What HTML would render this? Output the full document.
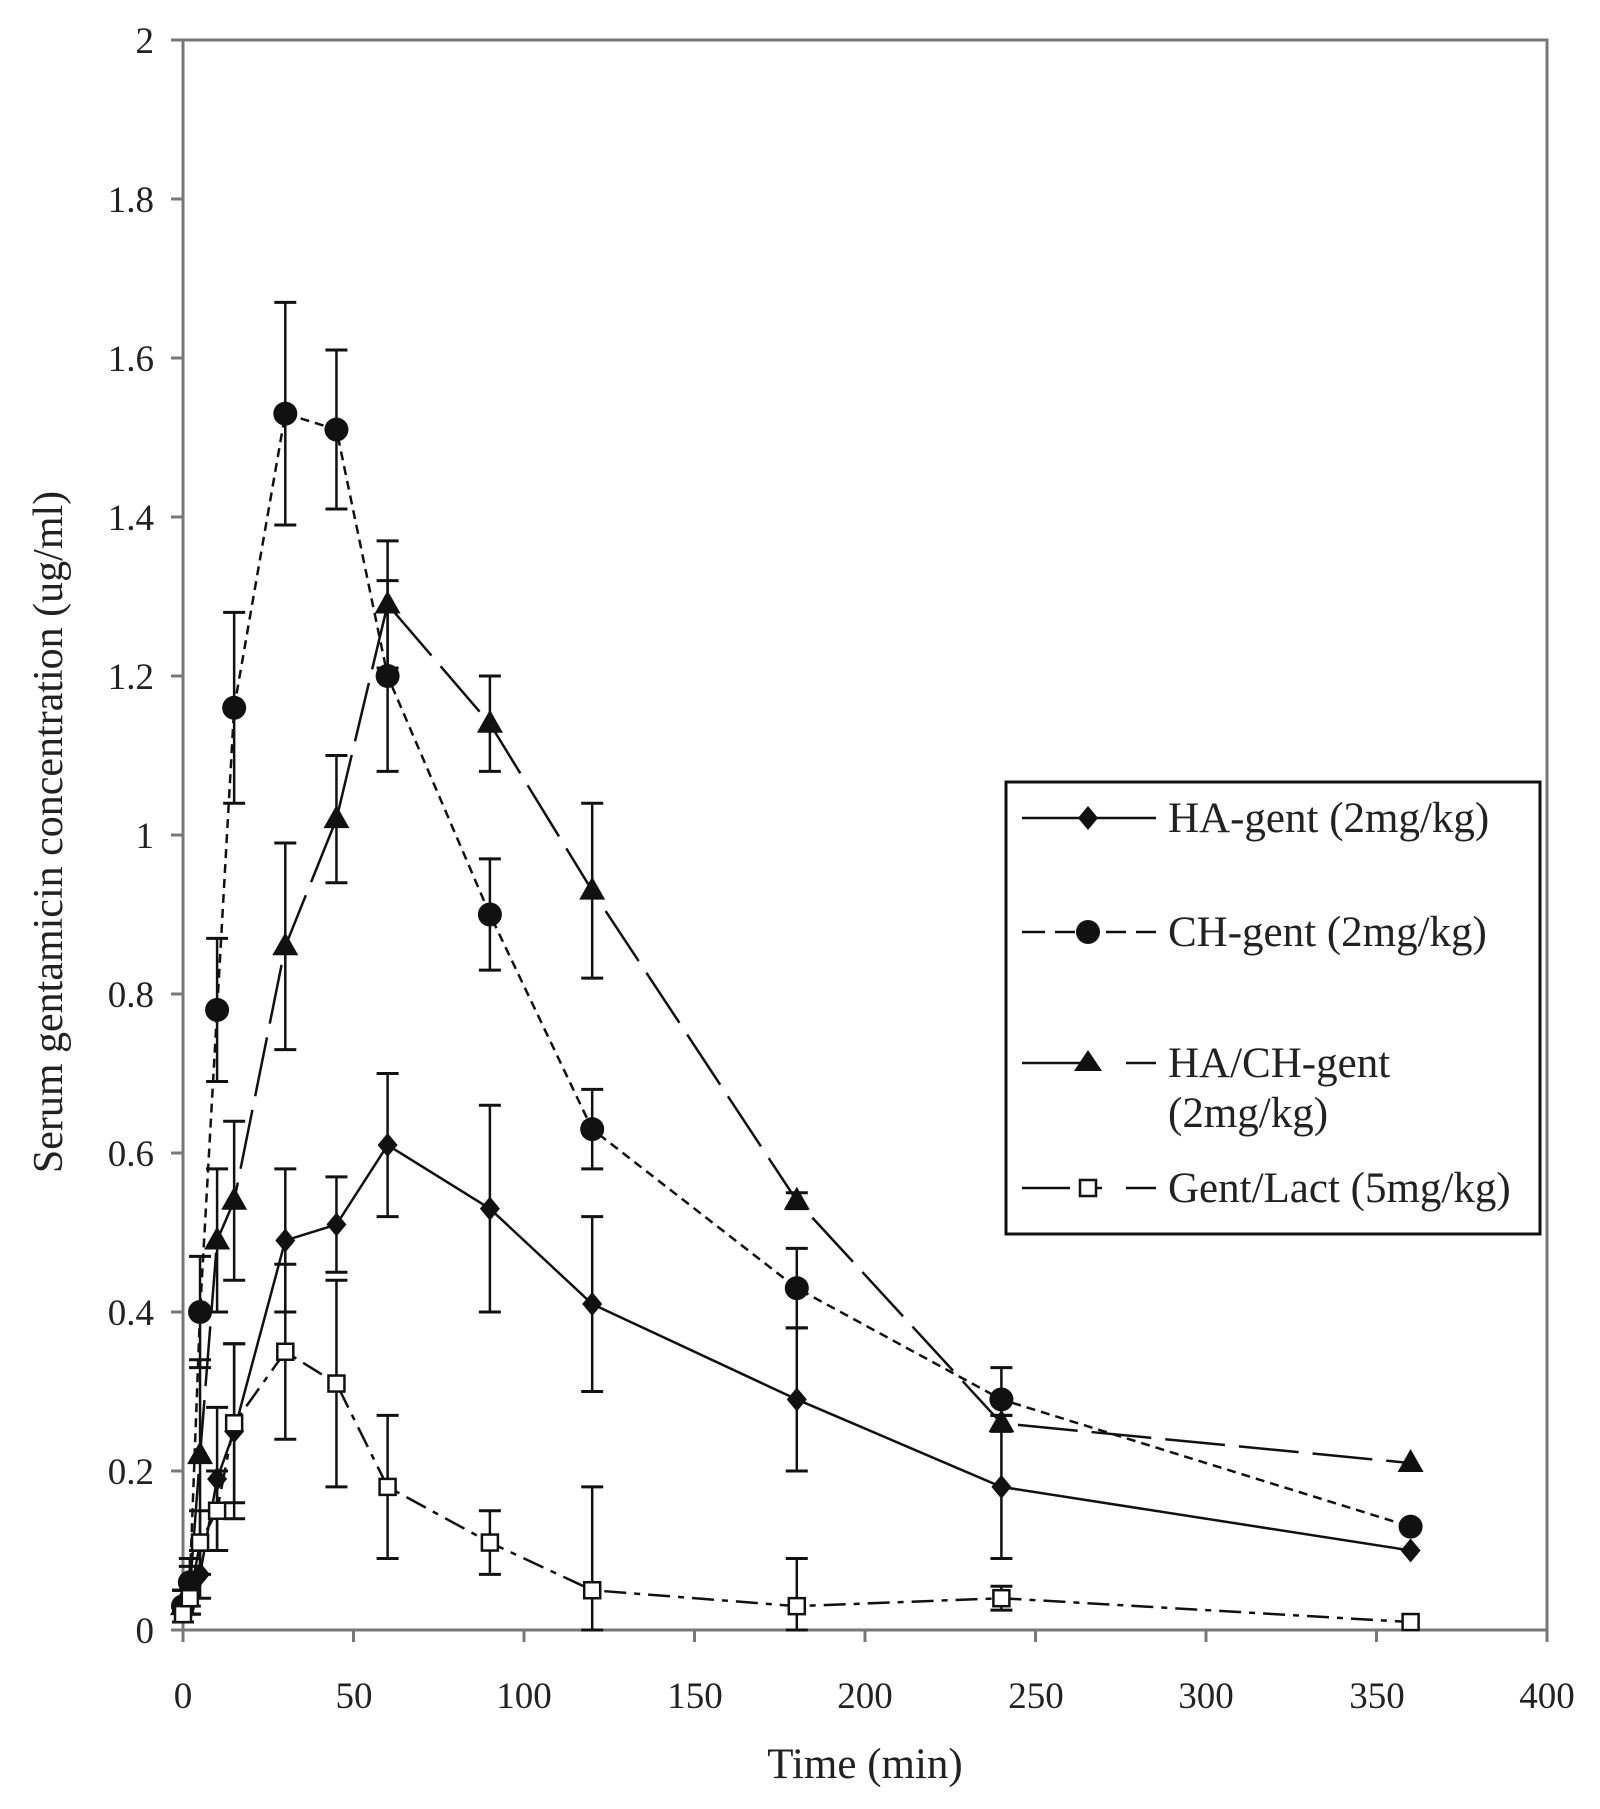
<!DOCTYPE html>
<html><head><meta charset="utf-8"><style>
html,body{margin:0;padding:0;background:#fff;}
svg{display:block;font-family:"Liberation Serif",serif;}
</style></head><body>
<svg id="s" width="1600" height="1809" viewBox="0 0 1600 1809" xmlns="http://www.w3.org/2000/svg">
<rect x="0" y="0" width="1600" height="1809" fill="#fff"/>
<rect x="183" y="40" width="1364" height="1590" fill="none" stroke="#777" stroke-width="3"/>
<g id="ticks" stroke="#777" stroke-width="3"></g>
<g font-size="37" fill="#222" text-anchor="end">
<text x="154" y="1643">0</text>
<text x="154" y="1484">0.2</text>
<text x="154" y="1325">0.4</text>
<text x="154" y="1166">0.6</text>
<text x="154" y="1007">0.8</text>
<text x="154" y="848">1</text>
<text x="154" y="689">1.2</text>
<text x="154" y="530">1.4</text>
<text x="154" y="371">1.6</text>
<text x="154" y="212">1.8</text>
<text x="154" y="53">2</text>
</g>
<g font-size="37" fill="#222" text-anchor="middle">
<text x="183" y="1708">0</text>
<text x="354" y="1708">50</text>
<text x="524" y="1708">100</text>
<text x="695" y="1708">150</text>
<text x="865" y="1708">200</text>
<text x="1036" y="1708">250</text>
<text x="1206" y="1708">300</text>
<text x="1377" y="1708">350</text>
<text x="1547" y="1708">400</text>
</g>
<text x="865" y="1778" font-size="43" text-anchor="middle" fill="#222">Time (min)</text>
<text transform="translate(62,832) rotate(-90)" font-size="42" text-anchor="middle" fill="#222">Serum gentamicin concentration (ug/ml)</text>
<g id="data"></g>
<rect x="1006" y="782" width="534" height="452" fill="#fff" stroke="#111" stroke-width="3"/>
<g stroke="#111" stroke-width="2.5">
<line x1="1022" y1="818" x2="1156" y2="818"/>
<line x1="1022" y1="932" x2="1045" y2="932"/><line x1="1055" y1="932" x2="1075" y2="932"/><line x1="1106" y1="932" x2="1126" y2="932"/><line x1="1136" y1="932" x2="1156" y2="932"/>
<line x1="1022" y1="1063" x2="1090" y2="1063"/><line x1="1126" y1="1063" x2="1156" y2="1063"/>
<line x1="1022" y1="1188" x2="1070" y2="1188"/><line x1="1090" y1="1188" x2="1102" y2="1188"/><line x1="1126" y1="1188" x2="1156" y2="1188"/>
</g>
<polygon points="1088,806 1098,818 1088,830 1078,818" fill="#111"/>
<circle cx="1088" cy="932" r="12" fill="#111"/>
<polygon points="1088,1050 1102,1071 1074,1071" fill="#111"/>
<rect x="1080" y="1180" width="16" height="16" fill="#fff" stroke="#111" stroke-width="2.5"/>
<g font-size="43" fill="#222">
<text x="1168" y="832">HA-gent (2mg/kg)</text>
<text x="1168" y="946">CH-gent (2mg/kg)</text>
<text x="1168" y="1077">HA/CH-gent</text>
<text x="1168" y="1127">(2mg/kg)</text>
<text x="1168" y="1202">Gent/Lact (5mg/kg)</text>
</g>
</svg>
<script>
var NS="http://www.w3.org/2000/svg";
function X(t){return 183+t*3.41;}
function Y(v){return 1630-v*795;}
function el(n,a,p){var e=document.createElementNS(NS,n);for(var k in a)e.setAttribute(k,a[k]);p.appendChild(e);return e;}
var tk=document.getElementById('ticks');
for(var i=0;i<=10;i++){var y=Y(i*0.2);el('line',{x1:171,y1:y,x2:183,y2:y},tk);}
for(var i=0;i<=8;i++){var x=X(i*50);el('line',{x1:x,y1:1630,x2:x,y2:1642},tk);}
var g=document.getElementById('data');
var series=[
{t:[0,2,5,10,15,30,45,60,90,120,180,240,360],v:[0.03,0.04,0.07,0.19,0.25,0.49,0.51,0.61,0.53,0.41,0.29,0.18,0.10],
 e:[0.02,0.02,0.03,0.09,0.11,0.09,0.06,0.09,0.13,0.11,0.09,0.09,0],dash:'',m:'d'},
{t:[0,2,5,10,15,30,45,60,90,120,180,240,360],v:[0.03,0.06,0.40,0.78,1.16,1.53,1.51,1.20,0.90,0.63,0.43,0.29,0.13],
 e:[0.02,0.03,0.07,0.09,0.12,0.14,0.10,0.12,0.07,0.05,0.05,0.04,0],dash:'9,6',m:'c'},
{t:[0,2,5,10,15,30,45,60,90,120,180,240,360],v:[0.03,0.05,0.22,0.49,0.54,0.86,1.02,1.29,1.14,0.93,0.54,0.26,0.21],
 e:[0.02,0.03,0.12,0.09,0.10,0.13,0.08,0.08,0.06,0.11,0.01,0.01,0],dash:'60,14',m:'t'},
{t:[0,2,5,10,15,30,45,60,90,120,180,240,360],v:[0.02,0.04,0.11,0.15,0.26,0.35,0.31,0.18,0.11,0.05,0.03,0.04,0.01],
 e:[0.01,0.02,0.04,0.05,0.10,0.11,0.13,0.09,0.04,0.13,0.06,0.015,0],dash:'22,8,6,8',m:'s'}];
series.forEach(function(s){
 var pts=s.t.map(function(t,i){return X(t)+','+Y(s.v[i]);}).join(' ');
 el('polyline',{points:pts,fill:'none',stroke:'#111','stroke-width':2.5,'stroke-dasharray':s.dash},g);
 s.t.forEach(function(t,i){var x=X(t),e=s.e[i];if(e>0){var y1=Y(s.v[i]+e),y2=Y(Math.max(0,s.v[i]-e));
  el('line',{x1:x,y1:y1,x2:x,y2:y2,stroke:'#111','stroke-width':2.5},g);
  el('line',{x1:x-11,y1:y1,x2:x+11,y2:y1,stroke:'#111','stroke-width':3},g);
  el('line',{x1:x-11,y1:y2,x2:x+11,y2:y2,stroke:'#111','stroke-width':3},g);}});
});
series.forEach(function(s){
 s.t.forEach(function(t,i){var x=X(t),y=Y(s.v[i]);
  if(s.m=='d')el('polygon',{points:(x)+','+(y-12)+' '+(x+10)+','+y+' '+x+','+(y+12)+' '+(x-10)+','+y,fill:'#111'},g);
  if(s.m=='c')el('circle',{cx:x,cy:y,r:12,fill:'#111'},g);
  if(s.m=='t')el('polygon',{points:x+','+(y-14)+' '+(x+13)+','+(y+9)+' '+(x-13)+','+(y+9),fill:'#111'},g);
  if(s.m=='s')el('rect',{x:x-8,y:y-8,width:16,height:16,fill:'#fff',stroke:'#111','stroke-width':2.5},g);
 });
});
</script>
</body></html>
